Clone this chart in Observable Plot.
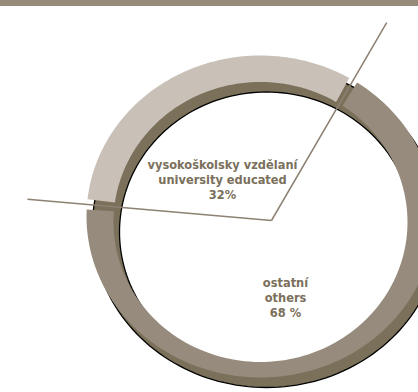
<!DOCTYPE html>
<html><head><meta charset="utf-8">
<script src="https://cdn.jsdelivr.net/npm/d3@7"></script>
<script src="https://cdn.jsdelivr.net/npm/@observablehq/plot@0.6"></script>
<style>
html,body{margin:0;padding:0;background:#fff;}
#wrap{position:relative;width:418px;height:392px;overflow:hidden;}
#band{position:absolute;left:0;top:0;width:418px;height:6px;background:#958b78;}
</style></head>
<body><div id="wrap"><div id="chart"></div><div id="band"></div></div>
<script>
// ---- data ----
const categoriesCz = ["vysokoškolsky vzdělaní", "ostatní"];
const categoriesEn = ["university educated", "others"];
const values = [32, 68];
const valueLabels = ["32%", "68 %"];

// ---- layout / style ----
const W = 418, H = 392;
const V = {x: 271, y: 220};                 // origin of the pie angles / leader lines
const outerE = {cx: 260, cy: 216, rx: 174, ry: 161};
const innerE = {cx: 260, cy: 221.5, rx: 147, ry: 140};
const backOffset = {dx: 6, dy: 10};
const startDeg = -85;
const padDeg = 1.6;
const leaderLength = [245, 229];
const labelPos = [[222, 179], [285, 297]];
const sliceColors = ["#c9c0b8", "#968b7c"];
const backColor = "#7b7059";
const textColor = "#7a705b";
const lineColor = "#8c8172";

const rad = d => d * Math.PI / 180;
function hit(E, phi, off = {dx: 0, dy: 0}) {
  const s = Math.sin(phi), c = -Math.cos(phi);
  const cx = E.cx + off.dx, cy = E.cy + off.dy;
  const u = (V.x - cx) / E.rx, v = (V.y - cy) / E.ry, a = s / E.rx, b = c / E.ry;
  const A = a * a + b * b, B = u * a + v * b, C = u * u + v * v - 1;
  const t = (-B + Math.sqrt(B * B - A * C)) / A;
  return [V.x + t * s, V.y + t * c];
}
function ellipsePts(E, off, reverse) {
  const pts = [];
  for (let i = 0; i <= 180; i++) {
    const th = (reverse ? -1 : 1) * i * 2 * Math.PI / 180;
    pts.push([E.cx + off.dx + E.rx * Math.sin(th), E.cy + off.dy - E.ry * Math.cos(th)]);
  }
  return pts;
}

const total = d3.sum(values);
const cats = categoriesCz;
// slice angles
let acc = rad(startDeg);
const slices = values.map((v, i) => {
  const a0 = acc, a1 = acc + v / total * 2 * Math.PI;
  acc = a1;
  return {i, a0, a1};
});

// back ring (full)
const backRows = [];
ellipsePts(outerE, backOffset, false).forEach(p => backRows.push({x: p[0], y: p[1]}));
ellipsePts(innerE, backOffset, true).forEach(p => backRows.push({x: p[0], y: p[1]}));
const backOuter = ellipsePts(outerE, backOffset, false).map(p => ({x: p[0], y: p[1]}));
const backInner = ellipsePts(innerE, backOffset, false).map(p => ({x: p[0], y: p[1]}));

// front slices
const sliceRows = [];
slices.forEach(s => {
  const p0 = s.a0 + rad(padDeg), p1 = s.a1 - rad(padDeg);
  const n = 120;
  for (let k = 0; k <= n; k++) {
    const [x, y] = hit(outerE, p0 + (p1 - p0) * k / n);
    sliceRows.push({x, y, cat: cats[s.i]});
  }
  for (let k = n; k >= 0; k--) {
    const [x, y] = hit(innerE, p0 + (p1 - p0) * k / n);
    sliceRows.push({x, y, cat: cats[s.i]});
  }
});

// leader lines at slice boundaries
const leaders = slices.map((s, i) => ({
  x1: V.x, y1: V.y,
  x2: V.x + leaderLength[i] * Math.sin(s.a0),
  y2: V.y - leaderLength[i] * Math.cos(s.a0)
}));

const labels = values.map((v, i) => ({
  x: labelPos[i][0], y: labelPos[i][1],
  text: categoriesCz[i] + "\n" + categoriesEn[i] + "\n" + valueLabels[i]
}));

const chart = Plot.plot({
  width: W, height: H, margin: 0,
  x: {domain: [0, W], range: [0, W], axis: null},
  y: {domain: [0, H], range: [0, H], axis: null},
  color: {domain: cats, range: sliceColors},
  style: {background: "transparent"},
  marks: [
    Plot.line(backRows, {x: "x", y: "y", fill: backColor, stroke: "none"}),
    Plot.line(backOuter, {x: "x", y: "y", stroke: "#000", strokeWidth: 1.3}),
    Plot.line(backInner, {x: "x", y: "y", stroke: "#000", strokeWidth: 1.3}),
    Plot.line(sliceRows, {x: "x", y: "y", z: "cat", fill: "cat", stroke: "none"}),
    Plot.link(leaders, {x1: "x1", y1: "y1", x2: "x2", y2: "y2", stroke: lineColor, strokeWidth: 1.5}),
    Plot.text(labels, {x: "x", y: "y", text: "text", fill: textColor, fontSize: 12.7,
      fontWeight: "bold", fontFamily: "'DejaVu Sans Condensed', 'DejaVu Sans', sans-serif",
      lineHeight: 1.16, lineAnchor: "middle", textAnchor: "middle"})
  ]
});
document.getElementById("chart").appendChild(chart);
</script>
</body></html>
